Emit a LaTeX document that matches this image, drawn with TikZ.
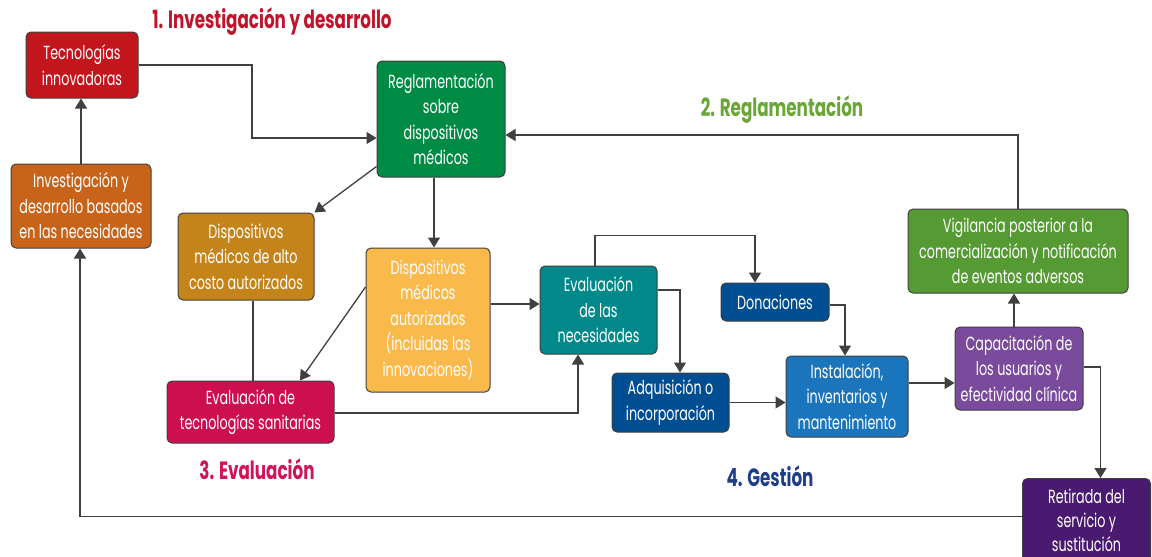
\documentclass[tikz,border=0pt]{standalone}
\usepackage{fontspec}
\setmainfont{Poppins}[FakeStretch=0.67]
\usetikzlibrary{arrows.meta}
\definecolor{cTec}{HTML}{C3161C}
\definecolor{cInv}{HTML}{C8641A}
\definecolor{cReg}{HTML}{008B45}
\definecolor{cAlto}{HTML}{C4841A}
\definecolor{cAut}{HTML}{F9B94B}
\definecolor{cEts}{HTML}{CD0F50}
\definecolor{cNec}{HTML}{00888A}
\definecolor{cDon}{HTML}{004E92}
\definecolor{cIns}{HTML}{1A75BC}
\definecolor{cCap}{HTML}{7A4A9C}
\definecolor{cVig}{HTML}{559A33}
\definecolor{cRet}{HTML}{4A1A70}
\definecolor{tRed}{HTML}{C0142A}
\definecolor{tGreen}{HTML}{6AA636}
\definecolor{tMag}{HTML}{D0145A}
\definecolor{tBlue}{HTML}{1F3E8A}
\definecolor{lineGray}{HTML}{404040}
\begin{document}
\begin{tikzpicture}[x=1pt,y=-1pt,
  box/.style={draw=black!75, line width=1pt, rounded corners=5pt, rectangle,
    text=white, align=center, inner sep=1pt,
    font=\fontsize{19}{25.5}\selectfont},
  conn/.style={draw=lineGray, line width=1.3pt},
  arr/.style={conn, -{Triangle[width=12pt,length=10pt]}},
  ttl/.style={font=\bfseries\fontsize{25}{28}\selectfont}]
\clip (0,0) rectangle (1152,557);
\fill[white] (0,0) rectangle (1152,557);
% titles
\node[ttl, text=tRed] (t1) at (272,22) {1. Investigación y desarrollo};
\node[ttl, text=tGreen] (t2) at (782,110) {2. Reglamentación};
\node[ttl, text=tMag] (t3) at (257,469) {3. Evaluación};
\node[ttl, text=tBlue] (t4) at (770,476) {4. Gestión};
% boxes
\node[box, fill=cTec, minimum width=112, minimum height=66] (tec) at (82,65) {Tecnologías\\innovadoras};
\node[box, fill=cInv, minimum width=140, minimum height=84] (inv) at (81,206) {Investigación y\\desarrollo basados\\en las necesidades};
\node[box, fill=cReg, minimum width=128, minimum height=116] (reg) at (441,119) {Reglamentación\\sobre\\dispositivos\\médicos};
\node[box, fill=cAlto, minimum width=136, minimum height=87] (alto) at (246,256.5) {Dispositivos\\médicos de alto\\costo autorizados};
\node[box, fill=cAut, minimum width=124, minimum height=144] (aut) at (428,320) {Dispositivos\\médicos\\autorizados\\(incluidas las\\innovaciones)};
\node[box, fill=cEts, minimum width=167, minimum height=62] (ets) at (250.5,412) {Evaluación de\\tecnologías sanitarias};
\node[box, fill=cNec, minimum width=117, minimum height=88] (nec) at (598.5,310) {Evaluación\\de las\\necesidades};
\node[box, fill=cDon, minimum width=108, minimum height=38] (don) at (775,302) {Donaciones};
\node[box, fill=cDon, minimum width=117, minimum height=59] (adq) at (670.5,402.5) {Adquisición o\\incorporación};
\node[box, fill=cIns, minimum width=122, minimum height=81] (ins) at (847,396.5) {Instalación,\\inventarios y\\mantenimiento};
\node[box, fill=cCap, minimum width=128, minimum height=83] (cap) at (1019,368.5) {Capacitación de\\los usuarios y\\efectividad clínica};
\node[box, fill=cVig, minimum width=220, minimum height=84] (vig) at (1018,251) {Vigilancia posterior a la\\comercialización y notificación\\de eventos adversos};
\node[box, fill=cRet, minimum width=128, minimum height=84, anchor=north west,
  font=\fontsize{19}{24}\selectfont] (ret) at (1022,478) {Retirada del\\servicio y\\sustitución};
% connectors
\draw[arr] (tec.east) -- (252,65) -- (252,138) -- ([yshift=-19pt]reg.west);
\draw[arr] (inv.north) -- (inv.north |- tec.south);
\draw[arr] ([xshift=-7pt]reg.south) -- ([xshift=-7pt]reg.south |- aut.north);
\draw[arr] ([yshift=11pt]reg.south west) -- (alto.north east);
\draw[arr] (vig.north) |- ([yshift=-16pt]reg.east);
\draw[conn] ([xshift=7pt]alto.south) -- ([xshift=7pt]alto.south |- ets.north);
\draw[arr] ([yshift=33pt]aut.west) -- ([xshift=49.5pt]ets.north);
\draw[arr] ([yshift=6pt]nec.west -| aut.east) -- ([yshift=6pt]nec.west);
\draw[arr] ([yshift=-1pt]ets.east) -| ([xshift=-20.5pt]nec.south);
\draw[arr] ([xshift=-3.5pt]nec.north) -- ++(0,-30) -| ([xshift=-20pt]don.north);
\draw[arr] ([yshift=20pt]nec.east) -| ([xshift=9.5pt]adq.north);
\draw[arr] ([yshift=-3pt]don.east) -| ([xshift=-2pt]ins.north);
\draw[arr] (adq.east) -- (adq.east -| ins.west);
\draw[arr] ([yshift=13.5pt]ins.east) -- ([yshift=13.5pt]ins.east -| cap.west);
\draw[arr] ([xshift=-5pt]cap.north) -- ([xshift=-5pt]cap.north |- vig.south);
\draw[arr] ([yshift=1.5pt]cap.east) -| ([xshift=14pt]ret.north);
\draw[arr] ([yshift=4pt]ret.west) -| ([xshift=-1pt]inv.south);
\end{tikzpicture}
\end{document}
